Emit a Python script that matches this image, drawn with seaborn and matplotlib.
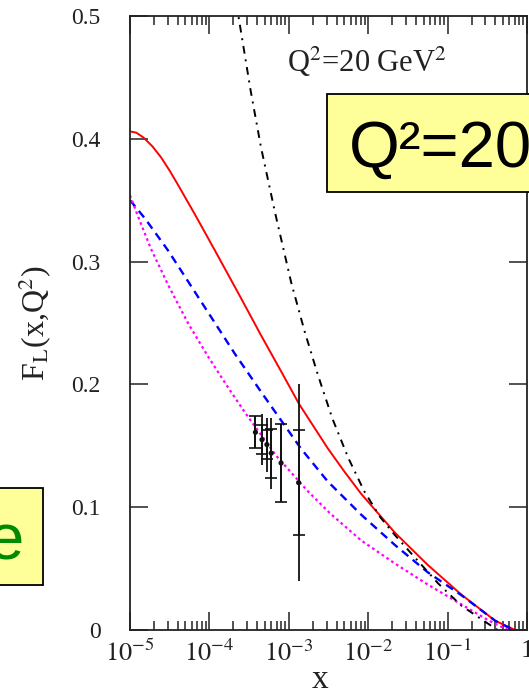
import numpy as np
import pandas as pd
import matplotlib
matplotlib.use("Agg")
import matplotlib.pyplot as plt
import seaborn as sns
from matplotlib.ticker import LogLocator, FixedLocator, FuncFormatter, NullFormatter
from matplotlib.patches import Rectangle

# ---- data (log10 x, F_L) ----
red_logx = [-5.00, -4.92, -4.83, -4.72, -4.61, -4.50, -4.40, -4.17, -3.93, -3.60,
            -3.35, -3.10, -2.87, -2.51, -2.30, -2.09, -1.66, -1.25, -0.83, -0.40, -0.15]
red_y = [0.406, 0.405, 0.401, 0.394, 0.385, 0.374, 0.363, 0.337, 0.309, 0.270,
         0.240, 0.211, 0.184, 0.148, 0.129, 0.111, 0.079, 0.053, 0.029, 0.0075, 0.0]

blue_logx = [-5.00, -4.81, -4.52, -4.23, -3.93, -3.68, -3.35, -3.10, -2.85, -2.51,
             -2.09, -1.66, -1.25, -0.83, -0.40, -0.17]
blue_y = [0.350, 0.335, 0.309, 0.280, 0.250, 0.225, 0.194, 0.171, 0.148, 0.121,
          0.094, 0.069, 0.047, 0.0285, 0.0075, 0.0]

mag_logx = [-5.00, -4.90, -4.74, -4.52, -4.27, -4.02, -3.77, -3.54, -3.16, -2.76,
            -2.48, -2.09, -1.66, -1.25, -0.83, -0.49, -0.24]
mag_y = [0.354, 0.337, 0.311, 0.281, 0.250, 0.223, 0.198, 0.176, 0.142, 0.113,
         0.095, 0.073, 0.054, 0.037, 0.021, 0.008, 0.0]

blk_logx = [-3.66, -3.48, -3.35, -3.17, -2.97, -2.80, -2.63, -2.45, -2.25, -2.05,
            -1.85, -1.66, -1.37, -1.12, -0.83, -0.58, -0.37]
blk_y = [0.510, 0.439, 0.393, 0.339, 0.283, 0.243, 0.207, 0.172, 0.140, 0.113,
         0.092, 0.077, 0.056, 0.038, 0.020, 0.009, 0.0]

# measured points
pts_x = [3.8e-4, 4.6e-4, 5.3e-4, 6.0e-4, 8.0e-4, 1.33e-3]
pts_y = [0.161, 0.155, 0.151, 0.144, 0.136, 0.120]
pts_err_tot = [0.013, 0.021, 0.022, 0.029, 0.032, 0.080]
pts_err_stat = [0.013, 0.012, 0.012, 0.020, 0.032, 0.043]

x_ticks = [1e-5, 1e-4, 1e-3, 1e-2, 1e-1, 1.0]
y_ticks = [0.0, 0.1, 0.2, 0.3, 0.4, 0.5]

# ---- style ----
sns.set_style("ticks")
plt.rcParams['font.family'] = ['Liberation Serif', 'DejaVu Serif']
plt.rcParams['mathtext.fontset'] = 'stix'

W, H = 529, 692
fig = plt.figure(figsize=(W / 100, H / 100), dpi=100)
ax = fig.add_axes([130 / W, 62 / H, 397 / W, 614 / H])
ax.set_xscale('log')

def curve(lx, y):
    return pd.DataFrame({"x": 10 ** np.asarray(lx), "y": y})

d = curve(red_logx, red_y)
sns.lineplot(data=d, x="x", y="y", ax=ax, color='#ff0000', lw=1.4)
d = curve(blue_logx, blue_y)
sns.lineplot(data=d, x="x", y="y", ax=ax, color='#0000ff', lw=1.7,
             linestyle=(0, (3.5, 2.4)))
d = curve(mag_logx, mag_y)
sns.lineplot(data=d, x="x", y="y", ax=ax, color='#ff00ff', lw=1.6,
             linestyle=(0, (1.2, 1.4)))
d = curve(blk_logx, blk_y)
sns.lineplot(data=d, x="x", y="y", ax=ax, color='black', lw=1.4,
             linestyle=(0, (4, 3, 1, 3)))

ax.errorbar(pts_x, pts_y, yerr=pts_err_tot, fmt='none', ecolor='#111111',
            elinewidth=1.3, capsize=0)
ax.errorbar(pts_x, pts_y, yerr=pts_err_stat, fmt='none', ecolor='#111111',
            elinewidth=1.3, capsize=4, capthick=1.2)
sns.scatterplot(x=pts_x, y=pts_y, ax=ax, color='#111111', s=14,
                edgecolor='none', zorder=5)

ax.set_xlim(1e-5, 1.0)
ax.set_ylim(0, 0.5)

ax.xaxis.set_major_locator(FixedLocator(x_ticks))
ax.xaxis.set_minor_locator(LogLocator(base=10, subs=np.arange(2, 10), numticks=30))
ax.xaxis.set_minor_formatter(NullFormatter())

def xfmt(v, pos):
    e = int(round(np.log10(v)))
    return '1' if e == 0 else r'$10^{%d}$' % e

ax.xaxis.set_major_formatter(FuncFormatter(xfmt))
ax.yaxis.set_major_locator(FixedLocator(y_ticks))
ax.yaxis.set_major_formatter(FuncFormatter(lambda v, p: '0' if v == 0 else '%.1f' % v))

ax.tick_params(which='both', direction='in', top=True, right=True,
               color='#222222', labelcolor='#222222')
ax.tick_params(which='major', length=13, width=1.1)
ax.tick_params(which='minor', length=6.5, width=1.1)
ax.tick_params(axis='y', which='major', pad=21, labelsize=17)
ax.tick_params(axis='x', which='major', pad=7, labelsize=19)

for s in ax.spines.values():
    s.set_visible(True)
    s.set_linewidth(1.3)
    s.set_color('#222222')

ax.set_xlabel('x', fontsize=24, color='#222222')
ax.xaxis.set_label_coords((320 - 130) / 397, (630 - 665) / 614)
ax.set_ylabel(r'F$_{\mathrm{L}}$(x,Q$^{2}$)', fontsize=23, color='#222222')
ax.yaxis.set_label_coords((54 - 130) / 397, 0.5)

ax.text((287 - 130) / 397, (630 - 72) / 614, r'Q$^{2}$=20 GeV$^{2}$',
        transform=ax.transAxes, fontsize=22, color='#222222',
        ha='left', va='baseline')

# ---- overlaid slide boxes ----
box1 = Rectangle((327 / W, 1 - 192 / H), (545 - 327) / W, 98 / H,
                 transform=fig.transFigure, facecolor='#ffff99',
                 edgecolor='black', lw=1.3, zorder=10)
fig.add_artist(box1)
fig.text(349 / W, 1 - 167 / H, 'Q²=20', fontsize=47, family='Liberation Sans',
         color='black', ha='left', va='baseline', zorder=11)

box2 = Rectangle((-15 / W, 1 - 585 / H), (43 + 15) / W, 97 / H,
                 transform=fig.transFigure, facecolor='#ffff99',
                 edgecolor='black', lw=1.3, zorder=10)
fig.add_artist(box2)
fig.text(24 / W, 1 - 559 / H, 'e', fontsize=47, family='Liberation Sans',
         color='#008a00', ha='right', va='baseline', zorder=11)

fig.savefig('out.png', dpi=100)
